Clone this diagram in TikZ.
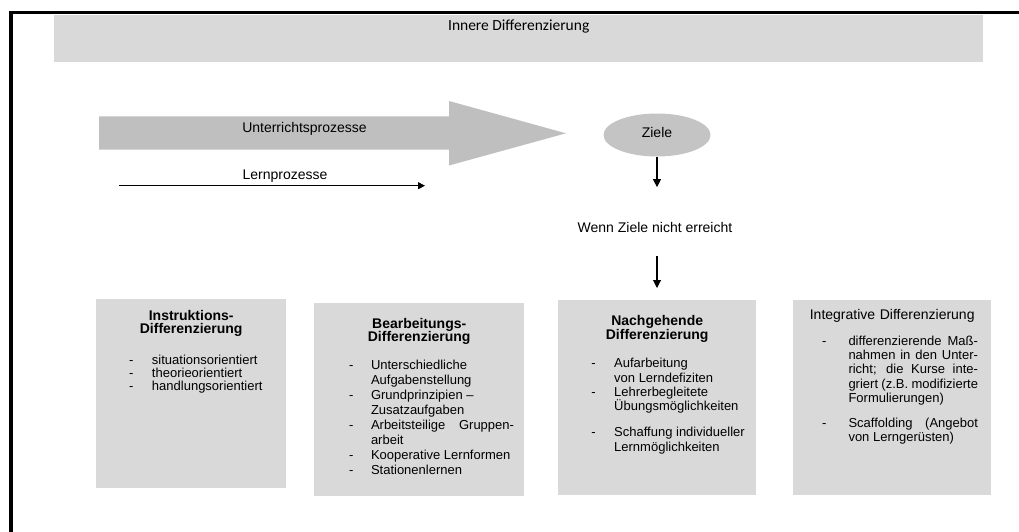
\documentclass[tikz,border=0pt]{standalone}
\usepackage{fontspec}
\setmainfont{Liberation Sans}
\newfontfamily\titlefont{Carlito}
\usepackage{xcolor}
\usetikzlibrary{shapes.geometric}
\usetikzlibrary{arrows.meta}
\usetikzlibrary{calc}

\definecolor{boxgray}{HTML}{D9D9D9}
\definecolor{arrowgray}{HTML}{BFBFBF}
\definecolor{zielgray}{HTML}{C4C4C4}

\newcommand{\dashitem}[2][22pt]{\hangindent=#1\hangafter=1\noindent\makebox[#1][l]{-}#2\par}

\begin{document}
\begin{tikzpicture}[x=1pt,y=-1pt,
    box/.style={fill=boxgray, inner sep=0pt, anchor=north west},
    head/.style={anchor=base, inner sep=0pt, text width=190pt, align=center,
      font=\fontsize{14}{13.6}\selectfont\bfseries},
    items/.style={anchor=base west, inner sep=0pt, align=justify, font=\fontsize{13}{14.4}\selectfont},
    lbl/.style={anchor=base, inner sep=0pt, font=\fontsize{14}{16}\selectfont},
    arr/.style={line width=1.1pt, -{Triangle[length=8pt,width=8pt]}}]

      \useasboundingbox (0,0) rectangle (1019,532);
      \draw[line width=3.4pt] (11,532) -- (11,12.5) -- (1019,12.5);

      \node[box, minimum width=929, minimum height=47] (inner) at (54,15) {};
      \node[anchor=base, inner sep=0pt, font=\titlefont\fontsize{15.5}{18}\selectfont] (title)
        at ([yshift=-16]inner.north) {Innere Differenzierung};

      \fill[arrowgray] (99,116.5) -- (449,116.5) -- (449,101) -- (566,133.3)
        -- (449,165.5) -- (449,149.5) -- (99,149.5) -- cycle;
      \node[lbl] (unterricht) at (304.5,132.7) {Unterrichtsprozesse};

      \coordinate (lstart) at (119,185.7);
      \coordinate (lend) at (425,185.7);
      \draw[line width=1pt, -{Triangle[length=7pt,width=7pt]}] (lstart) -- (lend);
      \node[lbl] (lern) at (285,179) {Lernprozesse};

      \node[ellipse, fill=zielgray, minimum width=107, minimum height=43, inner sep=0pt,
        text depth=6pt, font=\fontsize{14}{16}\selectfont] (ziele) at (657,135) {Ziele};
      \node[lbl] (wenn) at (655,232.5) {Wenn Ziele nicht erreicht};

      \node[box, minimum width=190, minimum height=189] (instr) at (96,299) {};
      \node[box, minimum width=210, minimum height=193] (bearb) at (314,303) {};
      \node[box, minimum width=198, minimum height=195] (nach) at (558,300) {};
      \node[box, minimum width=198, minimum height=195] (integ) at (793,300) {};

      \draw[arr, shorten >=35pt] (ziele.south) -- (ziele.south |- wenn.north);
      \draw[arr, shorten <=23.5pt, shorten >=12pt] (ziele.south |- wenn.south) -- (ziele.south |- nach.north);

      \node[head] (instrhead) at ([yshift=-21]instr.north) {Instruktions-\\Differenzierung};
      \node[head] (bearbhead) at ([yshift=-25.3]bearb.north) {Bearbeitungs-\\Differenzierung};
      \node[head] (nachhead) at ([yshift=-25.7]nach.north) {Nachgehende\\Differenzierung};
      \node[head, font=\fontsize{14}{13.6}\selectfont] (integhead) at ([yshift=-19]integ.north)
        {Integrative Differenzierung};

      \node[items, text width=140pt, font=\fontsize{13}{13.3}\selectfont] (instrlist)
        at ([xshift=32.8,yshift=-65]instr.north west) {%
        \dashitem[23pt]{situationsorientiert}
        \dashitem[23pt]{theorieorientiert}
        \dashitem[23pt]{handlungsorientiert}};

      \node[items, text width=165pt, font=\fontsize{13}{15}\selectfont] (bearblist)
        at ([xshift=34.8,yshift=-66]bearb.north west) {%
        \dashitem{Unterschiedliche\newline Aufgabenstellung}
        \dashitem{Grundprinzipien –\newline Zusatzaufgaben}
        \dashitem{Arbeitsteilige Gruppen-\linebreak arbeit}
        \dashitem{Kooperative Lernformen}
        \dashitem{Stationenlernen}};

      \node[items, text width=156.8pt] (nachlist) at ([xshift=33.2,yshift=-67.7]nach.north west) {%
        \dashitem[22.8pt]{Aufarbeitung\newline von Lerndefiziten}
        \dashitem[22.8pt]{Lehrerbegleitete\newline Übungsmöglichkeiten}
        \vspace{11.4pt}
        \dashitem[22.8pt]{Schaffung individueller\newline Lernmöglichkeiten}};

      \node[items, text width=156pt] (integlist) at ([xshift=28.8,yshift=-45]integ.north west) {%
        \dashitem[26.5pt]{differenzierende Maß-\linebreak nahmen in den Unter-\linebreak
          richt; die Kurse inte-\linebreak griert (z.B. modifizierte\linebreak Formulierungen)}
        \vspace{10.4pt}
        \dashitem[26.5pt]{Scaffolding (Angebot\linebreak von Lerngerüsten)}};
    \end{tikzpicture}
\end{document}
